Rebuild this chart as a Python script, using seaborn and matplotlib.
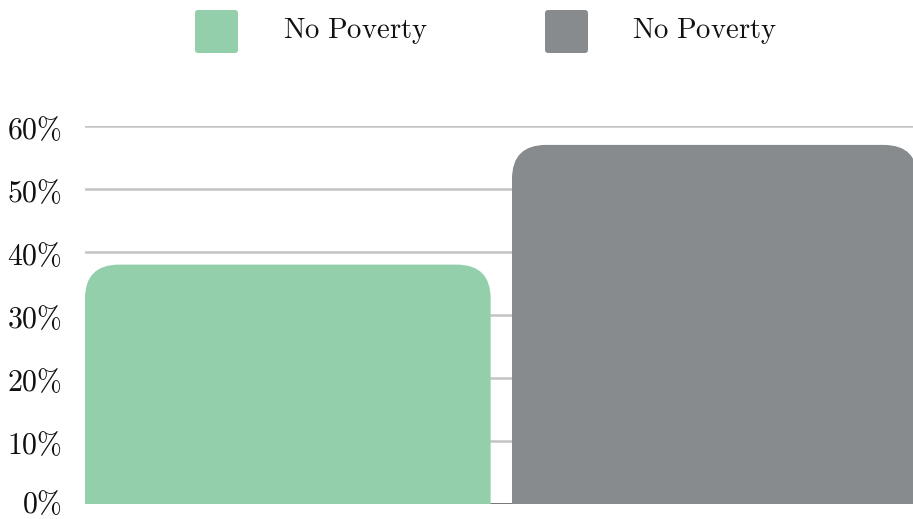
import matplotlib
matplotlib.use("Agg")
import matplotlib.pyplot as plt
import matplotlib.transforms as mtransforms
from matplotlib.patches import FancyBboxPatch
from matplotlib.ticker import FuncFormatter, MultipleLocator
import seaborn as sns
import pandas as pd

# Data
categories = ["No Poverty (A)", "No Poverty (B)"]
legend_labels = ["No Poverty", "No Poverty"]
values = [38, 57]
colors = ["#93CFAB", "#878B8E"]

sns.set_theme(style="white")
plt.rcParams["mathtext.fontset"] = "cm"

W, H, DPI = 913, 519, 100
fig = plt.figure(figsize=(W / DPI, H / DPI), dpi=DPI)

# axes box in pixels: left 85, right 913, bottom (0%) at y=504, top (60%) at y=126
ax = fig.add_axes([85 / W, (H - 504) / H, (913 - 85) / W, (504 - 126) / H])

df = pd.DataFrame({"cat": categories, "val": values})
sns.barplot(data=df, x="cat", y="val", hue="cat", palette=colors,
            saturation=1, width=0.95, legend=False, ax=ax, zorder=3)

ymax = 60
ax.set_ylim(0, ymax)
ax.set_xlim(-0.475, -0.475 + (913 - 85) / 427)

# replace straight bars with top-rounded ones
px_x = (ax.get_xlim()[1] - ax.get_xlim()[0]) / (913 - 85)
px_y = ymax / (504 - 126)
aspect = px_y / px_x
radius_px = 34
for bar in list(ax.patches):
    x, w, h = bar.get_x(), bar.get_width(), bar.get_height()
    fc = bar.get_facecolor()
    bar.remove()
    ext = 10  # extend below zero so bottom corners are clipped away
    rb = FancyBboxPatch((x, -ext), w, h + ext,
                        boxstyle=f"round,pad=0,rounding_size={radius_px * px_x}",
                        mutation_aspect=aspect, facecolor=fc, edgecolor="none",
                        zorder=3, clip_on=True)
    ax.add_patch(rb)

# grid and baseline
ax.yaxis.set_major_locator(MultipleLocator(10))
ax.grid(axis="y", color="#C4C4C4", linewidth=1.8, zorder=0)
ax.grid(axis="x", visible=False)
ax.axhline(0, color="#5E5E5E", linewidth=1.8, zorder=1)
for s in ax.spines.values():
    s.set_visible(False)
ax.set_axisbelow(True)

ax.yaxis.set_major_formatter(FuncFormatter(lambda v, p: rf"${v:.0f}\%$"))
ax.tick_params(axis="y", length=0, pad=16.5, labelsize=21.5, labelcolor="#111111")
ax.set_xticks([])
ax.set_xlabel("")
ax.set_ylabel("")
fig.canvas.draw()
for lab in ax.get_yticklabels():
    # lowest label is nudged up so it stays inside the canvas
    dy = 2 if lab.get_position()[1] == 0 else -1
    lab.set_transform(lab.get_transform() +
                      mtransforms.ScaledTranslation(0, dy / 72, fig.dpi_scale_trans))

# legend: rounded swatches with labels
sw = 43
legend_x = [195, 545]
text_x = [283, 632]
for lx, tx, lab, c in zip(legend_x, text_x, legend_labels, colors):
    p = FancyBboxPatch((lx / W, (H - 53) / H), sw / W, sw / H,
                       boxstyle=f"round,pad=0,rounding_size={3 / W}",
                       mutation_aspect=W / H, transform=fig.transFigure,
                       facecolor=c, edgecolor="none")
    fig.patches.append(p)
    fig.text(tx / W, (H - 31) / H, r"$\mathrm{" + lab.replace(" ", r"\ ") + "}$",
             fontsize=20.7, va="center", ha="left", color="#111111")

fig.savefig("out.png", dpi=DPI)
